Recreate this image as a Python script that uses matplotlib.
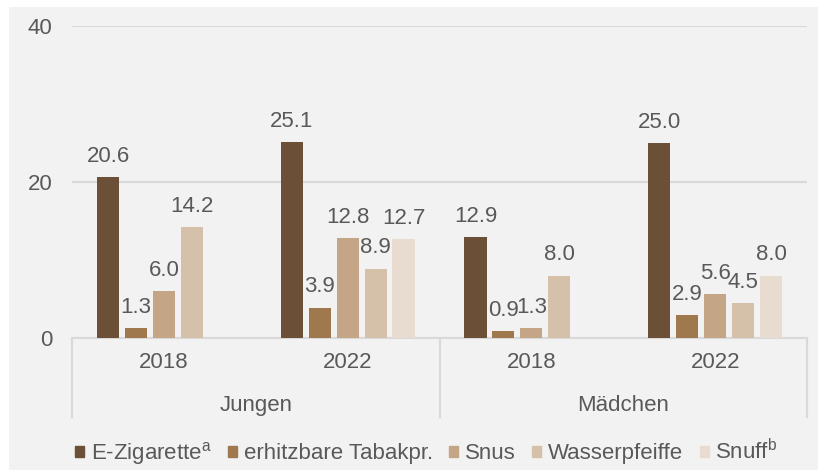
import numpy as np
import matplotlib.pyplot as plt
from matplotlib.patches import Rectangle

# Daten
gruppen = ["Jungen", "Mädchen"]
jahre = ["2018", "2022", "2018", "2022"]
serien = ["E-Zigarette$^{\\mathregular{a}}$", "erhitzbare Tabakpr.", "Snus", "Wasserpfeiffe", "Snuff$^{\\mathregular{b}}$"]
e_zigarette = [20.6, 25.1, 12.9, 25.0]
erhitzbare = [1.3, 3.9, 0.9, 2.9]
snus = [6.0, 12.8, 1.3, 5.6]
wasserpfeife = [14.2, 8.9, 8.0, 4.5]
snuff = [None, 12.7, None, 8.0]

farben = ["#6b5037", "#a0784e", "#c4a687", "#d5c0aa", "#e8dcd0"]
textfarbe = "#595959"
linienfarbe = "#d9d9d9"

plt.rcParams['font.family'] = ['Liberation Sans', 'DejaVu Sans']
plt.rcParams['mathtext.fontset'] = 'custom'
plt.rcParams['mathtext.rm'] = 'Liberation Sans'

fig = plt.figure(figsize=(8.18, 4.70), dpi=100)
fig.patches.append(Rectangle((9 / 818, 0), 1, 463 / 470, transform=fig.transFigure,
                             facecolor="#f2f2f2", edgecolor="none", zorder=-10))

ax = fig.add_axes([72 / 818, 1 - 338 / 470, (807 - 72) / 818, (338 - 26) / 470])
ax.set_facecolor("none")

x = np.arange(4)
breite = 0.12
abstand = 0.152
alle = [e_zigarette, erhitzbare, snus, wasserpfeife, snuff]
for i, werte in enumerate(alle):
    for j, w in enumerate(werte):
        if w is None:
            continue
        xp = x[j] + (i - 2) * abstand
        ax.bar(xp, w, breite, color=farben[i], zorder=3)
        ax.annotate(f"{w:.1f}", (xp, w), xytext=(0, 11), textcoords="offset points",
                    ha="center", va="baseline", fontsize=16, color=textfarbe)

ax.set_xlim(-0.5, 3.5)
ax.set_ylim(0, 40)
ax.set_yticks([0, 20, 40])
ax.tick_params(axis="y", length=0, pad=14, labelsize=16, labelcolor=textfarbe)
ax.set_xticks([])
for s in ["top", "right", "left"]:
    ax.spines[s].set_visible(False)
ax.spines["bottom"].set_color(linienfarbe)
ax.spines["bottom"].set_linewidth(1.5)
ax.grid(axis="y", color=linienfarbe, linewidth=1.5, zorder=0)

# Kategorienachse
trans = ax.get_xaxis_transform()
for j, jahr in enumerate(jahre):
    ax.text(x[j], -0.08, jahr, transform=trans, ha="center", va="center",
            fontsize=16, color=textfarbe)
for k, g in enumerate(gruppen):
    ax.text(2 * k + 0.5, -0.215, g, transform=trans, ha="center", va="center",
            fontsize=16, color=textfarbe)
for xs in [-0.5, 1.5, 3.5]:
    ax.plot([xs, xs], [0, -0.253], transform=trans, color=linienfarbe,
            linewidth=1.5, clip_on=False)

# Legende
handles = [Rectangle((0, 0), 1, 1, color=f) for f in farben]
fig.legend(handles, serien, loc="center", bbox_to_anchor=(0.521, 1 - 453 / 470), ncol=5,
           frameon=False, fontsize=16, labelcolor=textfarbe, handlelength=0.4,
           handleheight=0.4, handletextpad=0.3, columnspacing=0.75)

fig.savefig("out.png", dpi=100)
